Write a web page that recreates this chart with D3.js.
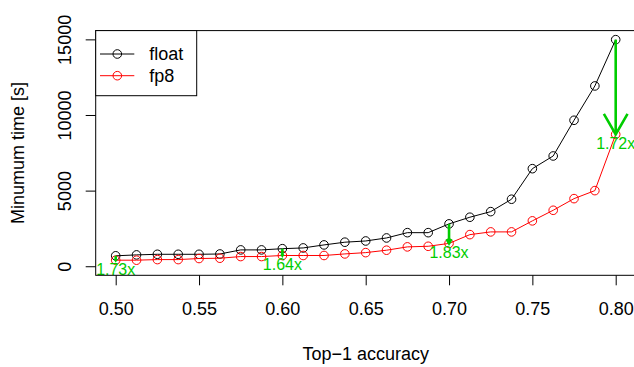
<!DOCTYPE html>
<html>
<head>
<meta charset="utf-8">
<script src="https://cdn.jsdelivr.net/npm/d3@7"></script>
<style>
  html, body { margin: 0; padding: 0; background: #fff; }
  svg text { font-family: "Liberation Sans", Arial, Helvetica, sans-serif; }
</style>
</head>
<body>
<svg id="chart" width="634" height="367"></svg>
<script>
// ---- data ----
const accuracy = [0.5, 0.5125, 0.525, 0.5375, 0.55, 0.5625, 0.575, 0.5875, 0.6, 0.6125, 0.625, 0.6375,
                  0.65, 0.6625, 0.675, 0.6875, 0.7, 0.7125, 0.725, 0.7375, 0.75, 0.7625, 0.775, 0.7875, 0.8];
const floatTime = [690, 750, 790, 790, 790, 810, 1080, 1080, 1160, 1210, 1410, 1590,
                   1670, 1870, 2220, 2220, 2800, 3240, 3610, 4430, 6450, 7290, 9650, 11920, 14980];
const fp8Time = [400, 400, 440, 440, 510, 530, 640, 640, 710, 710, 710, 815,
                 900, 1060, 1280, 1320, 1510, 2090, 2270, 2270, 3000, 3700, 4470, 5000, 8720];
const speedupAt = [0.5, 0.6, 0.7, 0.8];
const speedupLabels = ["1.73x", "1.64x", "1.83x", "1.72x"];
const xTicks = [0.5, 0.55, 0.6, 0.65, 0.7, 0.75, 0.8];
const xTickLabels = ["0.50", "0.55", "0.60", "0.65", "0.70", "0.75", "0.80"];
const yTicks = [0, 5000, 10000, 15000];
const seriesNames = ["float", "fp8"];
const seriesColors = ["#000000", "#ff0000"];

// ---- layout ----
const svg = d3.select("#chart");
const L = 95.7, R = 635.7, T = 30.6, B = 275.3;
const xMin = d3.min(accuracy), xMax = d3.max(accuracy);
const xPad = (xMax - xMin) * 0.04;
const x = d3.scaleLinear().domain([xMin - xPad, xMax + xPad]).range([L, R]);
const yMax = d3.max(floatTime);
const y = d3.scaleLinear().domain([-0.04 * yMax, yMax * 1.04]).range([B, T]);
const green = "#00cd00";
const fontSize = 18;
const ptR = 4.3;

// ---- x axis ----
const xAxis = d3.axisBottom(x).tickValues(xTicks)
  .tickFormat((d, i) => xTickLabels[i]).tickSize(10).tickPadding(17.4);
const gx = svg.append("g").attr("transform", `translate(0,${B})`).call(xAxis);
gx.select(".domain").remove();
gx.selectAll("line").attr("stroke", "#000").attr("stroke-width", 1);
gx.selectAll("text").attr("font-size", fontSize).attr("fill", "#000")
  .attr("font-family", "Liberation Sans, Arial, sans-serif");

// ---- y axis ----
const yAxis = d3.axisLeft(y).tickValues(yTicks).tickFormat(d3.format("d")).tickSize(10).tickPadding(0);
const gy = svg.append("g").attr("transform", `translate(${L},0)`).call(yAxis);
gy.select(".domain").remove();
gy.selectAll("line").attr("stroke", "#000").attr("stroke-width", 1);
gy.selectAll("text")
  .attr("font-size", fontSize).attr("fill", "#000")
  .attr("font-family", "Liberation Sans, Arial, sans-serif")
  .attr("text-anchor", "middle")
  .attr("x", null).attr("dy", null)
  .attr("transform", `translate(${71 - L},0) rotate(-90)`);

// ---- axis titles ----
svg.append("text").attr("x", (L + R) / 2).attr("y", 360)
  .attr("text-anchor", "middle").attr("font-size", fontSize).text("Top\u22121 accuracy");
svg.append("text").attr("transform", `translate(24,${(T + B) / 2}) rotate(-90)`)
  .attr("text-anchor", "middle").attr("font-size", fontSize).text("Minumum time [s]");

// ---- series ----
const series = [floatTime, fp8Time];
series.forEach((vals, si) => {
  const pts = accuracy.map((a, i) => [x(a), y(vals[i])]);
  svg.append("path").attr("d", d3.line()(pts))
    .attr("fill", "none").attr("stroke", seriesColors[si]).attr("stroke-width", 1);
  svg.append("g").selectAll("circle").data(pts).join("circle")
    .attr("cx", d => d[0]).attr("cy", d => d[1]).attr("r", ptR)
    .attr("fill", "none").attr("stroke", seriesColors[si]).attr("stroke-width", 1);
});

// ---- speedup arrows and labels ----
speedupAt.forEach((a, k) => {
  const i = accuracy.findIndex(v => Math.abs(v - a) < 1e-9);
  const px = x(a), y0 = y(floatTime[i]), y1 = y(fp8Time[i]);
  const len = y1 - y0;
  const arm = Math.max(len * 0.25, 1.5);
  const ang = Math.PI / 6;
  const g = svg.append("g").attr("stroke", green).attr("stroke-width", 2.6)
    .attr("fill", "none").attr("stroke-linecap", "butt");
  g.append("line").attr("x1", px).attr("y1", y0).attr("x2", px).attr("y2", y1);
  g.append("path").attr("d", d3.line()([
    [px - arm * Math.sin(ang), y1 - arm * Math.cos(ang)],
    [px, y1],
    [px + arm * Math.sin(ang), y1 - arm * Math.cos(ang)]
  ]));
  svg.append("text").attr("x", px).attr("y", y1 + 15)
    .attr("text-anchor", "middle").attr("font-size", 16).attr("fill", green)
    .text(speedupLabels[k]);
});

// ---- plot box ----
svg.append("rect").attr("x", L).attr("y", T).attr("width", R - L).attr("height", B - T)
  .attr("fill", "none").attr("stroke", "#000").attr("stroke-width", 1);

// ---- legend ----
const lg = svg.append("g");
lg.append("rect").attr("x", L).attr("y", T).attr("width", 196.7 - L).attr("height", 95.7 - T)
  .attr("fill", "#fff").attr("stroke", "#000").attr("stroke-width", 1);
const rowsY = [54, 75.7];
seriesNames.forEach((name, i) => {
  lg.append("line").attr("x1", 100).attr("x2", 134.3).attr("y1", rowsY[i]).attr("y2", rowsY[i])
    .attr("stroke", seriesColors[i]).attr("stroke-width", 1);
  lg.append("circle").attr("cx", 117.3).attr("cy", rowsY[i]).attr("r", ptR)
    .attr("fill", "none").attr("stroke", seriesColors[i]).attr("stroke-width", 1);
  lg.append("text").attr("x", 149.3).attr("y", rowsY[i]).attr("dy", "0.35em")
    .attr("font-size", fontSize).text(name);
});
</script>
</body>
</html>
